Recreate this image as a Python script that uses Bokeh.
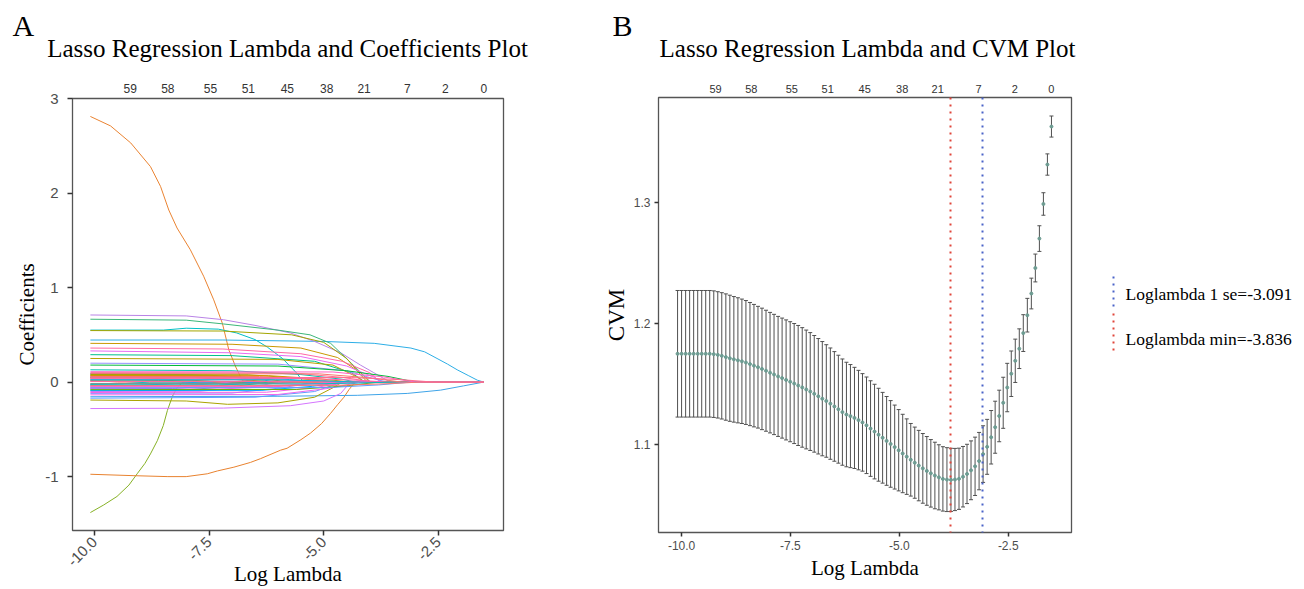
import math
from bokeh.plotting import figure
from bokeh.models import (Range1d, LinearAxis, FixedTicker, PrintfTickFormatter,
                          ColumnDataSource, Whisker, TeeHead)
from bokeh.layouts import row, column
from bokeh.embed import file_html
from bokeh.resources import INLINE
from bokeh.core.properties import value

# ---------------- data ----------------
x_ticks = [-10.0, -7.5, -5.0, -2.5]
coef_y_ticks = [-1, 0, 1, 2, 3]
cvm_y_ticks = [1.1, 1.2, 1.3]
df_positions = [-9.22, -8.40, -7.47, -6.645, -5.795, -4.935, -4.12, -3.18, -2.35, -1.51]
df_labels = ["59", "58", "55", "51", "45", "38", "21", "7", "2", "0"]
loglambda_min = -3.836
loglambda_1se = -3.091
loglambda_last = -1.507

log_lambda = [
    -10.092, -10.000, -9.907, -9.815, -9.723, -9.630, -9.538, -9.446, -9.354, -9.261,
    -9.169, -9.077, -8.984, -8.892, -8.800, -8.707, -8.615, -8.523, -8.430, -8.338,
    -8.246, -8.154, -8.061, -7.969, -7.877, -7.784, -7.692, -7.600, -7.507, -7.415,
    -7.323, -7.230, -7.138, -7.046, -6.954, -6.861, -6.769, -6.677, -6.584, -6.492,
    -6.400, -6.307, -6.215, -6.123, -6.030, -5.938, -5.846, -5.754, -5.661, -5.569,
    -5.477, -5.384, -5.292, -5.200, -5.107, -5.015, -4.923, -4.830, -4.738, -4.646,
    -4.554, -4.461, -4.369, -4.277, -4.184, -4.092, -4.000, -3.907, -3.815, -3.723,
    -3.630, -3.538, -3.446, -3.354, -3.261, -3.169, -3.077, -2.984, -2.892, -2.800,
    -2.707, -2.615, -2.523, -2.430, -2.338, -2.246, -2.154, -2.061, -1.969, -1.877,
    -1.784, -1.692, -1.600, -1.507]

cvm = [
    1.1750, 1.1750, 1.1750, 1.1750, 1.1750, 1.1750, 1.1750, 1.1750, 1.1750, 1.1747,
    1.1741, 1.1733, 1.1723, 1.1713, 1.1704, 1.1696, 1.1688, 1.1678, 1.1665, 1.1652,
    1.1639, 1.1625, 1.1610, 1.1594, 1.1579, 1.1563, 1.1549, 1.1534, 1.1519, 1.1504,
    1.1488, 1.1472, 1.1455, 1.1438, 1.1419, 1.1399, 1.1379, 1.1360, 1.1338, 1.1315,
    1.1292, 1.1268, 1.1248, 1.1235, 1.1220, 1.1202, 1.1183, 1.1159, 1.1132, 1.1107,
    1.1081, 1.1056, 1.1030, 1.1005, 1.0979, 1.0953, 1.0926, 1.0900, 1.0874, 1.0850,
    1.0826, 1.0803, 1.0782, 1.0762, 1.0744, 1.0729, 1.0716, 1.0710, 1.0708, 1.0711,
    1.0717, 1.0734, 1.0757, 1.0787, 1.0820, 1.0863, 1.0921, 1.0981, 1.1060, 1.1143,
    1.1236, 1.1345, 1.1471, 1.1585, 1.1692, 1.1792, 1.1921, 1.2069, 1.2248, 1.2459,
    1.2702, 1.2988, 1.3314, 1.3628]

cvsd = [
    0.0523, 0.0523, 0.0523, 0.0523, 0.0523, 0.0523, 0.0523, 0.0523, 0.0523, 0.0523,
    0.0522, 0.0522, 0.0522, 0.0521, 0.0519, 0.0517, 0.0514, 0.0512, 0.0509, 0.0506,
    0.0503, 0.0502, 0.0500, 0.0498, 0.0497, 0.0496, 0.0496, 0.0496, 0.0496, 0.0496,
    0.0496, 0.0494, 0.0491, 0.0487, 0.0482, 0.0477, 0.0472, 0.0465, 0.0460, 0.0453,
    0.0446, 0.0439, 0.0432, 0.0426, 0.0418, 0.0411, 0.0403, 0.0399, 0.0395, 0.0391,
    0.0384, 0.0375, 0.0367, 0.0358, 0.0347, 0.0336, 0.0324, 0.0312, 0.0300, 0.0294,
    0.0291, 0.0288, 0.0284, 0.0279, 0.0275, 0.0269, 0.0266, 0.0264, 0.0261, 0.0257,
    0.0253, 0.0250, 0.0245, 0.0243, 0.0241, 0.0237, 0.0234, 0.0227, 0.0221, 0.0215,
    0.0213, 0.0211, 0.0200, 0.0188, 0.0179, 0.0164, 0.0152, 0.0139, 0.0127, 0.0115,
    0.0106, 0.0093, 0.0088, 0.0087]

# coefficient paths: (log lambda, coefficient) knots
coef_paths = [
    [(-10.09, 2.81), (-9.65, 2.71), (-9.21, 2.53), (-8.78, 2.28), (-8.56, 2.07), (-8.38, 1.82),
     (-8.2, 1.63), (-7.91, 1.40), (-7.62, 1.12), (-7.40, 0.87), (-7.21, 0.62), (-7.07, 0.34),
     (-6.92, 0.16), (-6.80, 0.04), (-6.74, 0.0)],
    [(-10.09, -1.38), (-9.8, -1.30), (-9.51, -1.21), (-9.25, -1.09), (-9.07, -0.97), (-8.9, -0.86),
     (-8.78, -0.76), (-8.63, -0.62), (-8.5, -0.46), (-8.41, -0.30), (-8.3, -0.15), (-8.2, -0.06),
     (-8.1, -0.01), (-8.05, 0.0)],
    [(-10.09, -0.975), (-9.14, -0.99), (-8.4, -1.0), (-8.0, -1.0), (-7.54, -0.97), (-7.32, -0.94),
     (-6.96, -0.90), (-6.6, -0.85), (-6.38, -0.81), (-5.94, -0.72), (-5.8, -0.70), (-5.5, -0.61),
     (-5.29, -0.54), (-5.05, -0.44), (-4.85, -0.33), (-4.7, -0.24), (-4.56, -0.16), (-4.45, -0.08),
     (-4.34, -0.015), (-4.3, 0.0)],
    [(-10.09, 0.445), (-7.2, 0.445), (-5.0, 0.43), (-3.9, 0.41), (-3.1, 0.36), (-2.8, 0.32),
     (-2.53, 0.25), (-2.3, 0.19), (-2.09, 0.13), (-1.85, 0.07), (-1.65, 0.02), (-1.51, 0.0)],
    [(-10.09, -0.155), (-6.0, -0.15), (-4.27, -0.14), (-3.18, -0.12), (-2.45, -0.085),
     (-1.95, -0.04), (-1.51, 0.0)],
    [(-10.09, 0.71), (-8.0, 0.70), (-7.19, 0.66), (-6.5, 0.60), (-5.73, 0.52), (-5.2, 0.43),
     (-4.63, 0.31), (-4.2, 0.18), (-3.91, 0.10), (-3.7, 0.04), (-3.54, 0.0)],
    [(-10.09, 0.665), (-8.0, 0.655), (-7.19, 0.615), (-6.0, 0.55), (-5.3, 0.50), (-4.85, 0.41),
     (-4.4, 0.20), (-4.15, 0.08), (-3.98, 0.0)],
    [(-10.09, 0.55), (-8.5, 0.55), (-8.0, 0.57), (-7.3, 0.56), (-6.9, 0.52), (-6.5, 0.45),
     (-6.23, 0.37), (-5.9, 0.25), (-5.6, 0.10), (-5.44, 0.0)],
    [(-10.09, 0.545), (-7.2, 0.54), (-5.7, 0.50), (-5.0, 0.42), (-4.5, 0.25), (-4.2, 0.08), (-4.05, 0.0)],
    [(-10.09, 0.41), (-7.0, 0.40), (-5.5, 0.36), (-4.7, 0.26), (-4.2, 0.10), (-4.0, 0.0)],
    [(-10.09, 0.36), (-7.2, 0.35), (-5.5, 0.30), (-4.6, 0.22), (-4.0, 0.10), (-3.76, 0.0)],
    [(-10.09, 0.33), (-7.0, 0.31), (-5.5, 0.27), (-4.5, 0.17), (-3.9, 0.05), (-3.7, 0.0)],
    [(-10.09, 0.29), (-7.0, 0.28), (-5.2, 0.22), (-4.4, 0.10), (-4.1, 0.0)],
    [(-10.09, 0.25), (-6.0, 0.24), (-4.8, 0.18), (-4.3, 0.06), (-4.1, 0.0)],
    [(-10.09, 0.20), (-6.0, 0.19), (-4.5, 0.12), (-3.8, 0.02), (-3.6, 0.0)],
    [(-10.09, 0.18), (-6.0, 0.17), (-4.5, 0.12), (-3.6, 0.06), (-3.2, 0.02), (-3.0, 0.0)],
    [(-10.09, 0.13), (-7.0, 0.12), (-5.5, 0.08), (-4.6, 0.03), (-4.3, 0.0)],
    [(-10.09, 0.09), (-8.0, 0.08), (-7.0, 0.05), (-6.3, 0.02), (-6.0, 0.0)],
    [(-10.09, -0.28), (-7.19, -0.275), (-5.73, -0.25), (-5.0, -0.20), (-4.63, -0.12), (-4.42, 0.0)],
    [(-10.09, -0.19), (-8.0, -0.20), (-7.1, -0.235), (-6.0, -0.22), (-5.2, -0.16), (-4.8, -0.06), (-4.6, 0.0)],
    [(-10.09, -0.17), (-6.5, -0.16), (-5.2, -0.10), (-4.6, 0.0)],
    [(-10.09, 0.015), (-9.8, 0.01), (-9.5, 0.0)],
    [(-10.09, -0.025), (-9.5, -0.02), (-8.8, 0.0)],
    [(-10.09, 0.035), (-9.2, 0.03), (-8.6, 0.017), (-8.0, 0.0)],
    [(-10.09, -0.04), (-9.2, -0.038), (-8.4, -0.02), (-7.7, 0.0)],
    [(-10.09, 0.05), (-9.1, 0.048), (-8.0, 0.025), (-7.3, 0.0)],
    [(-10.09, -0.055), (-8.8, -0.053), (-7.7, -0.027), (-7.0, 0.0)],
    [(-10.09, 0.02), (-8.6, 0.019), (-7.5, 0.01), (-6.8, 0.0)],
    [(-10.09, -0.07), (-8.3, -0.068), (-7.2, -0.035), (-6.5, 0.0)],
    [(-10.09, 0.065), (-8.1, 0.063), (-7.0, 0.032), (-6.3, 0.0)],
    [(-10.09, -0.085), (-8.0, -0.082), (-6.9, -0.042), (-6.2, 0.0)],
    [(-10.09, 0.045), (-7.8, 0.044), (-6.7, 0.022), (-6.0, 0.0)],
    [(-10.09, -0.10), (-7.7, -0.097), (-6.6, -0.05), (-5.9, 0.0)],
    [(-10.09, 0.075), (-7.5, 0.073), (-6.4, 0.037), (-5.7, 0.0)],
    [(-10.09, -0.03), (-7.3, -0.029), (-6.2, -0.015), (-5.5, 0.0)],
    [(-10.09, 0.01), (-7.1, 0.01), (-6.0, 0.005), (-5.3, 0.0)],
    [(-10.09, -0.12), (-7.0, -0.116), (-5.9, -0.06), (-5.2, 0.0)],
    [(-10.09, 0.055), (-6.85, 0.053), (-5.75, 0.027), (-5.05, 0.0)],
    [(-10.09, -0.065), (-6.75, -0.063), (-5.65, -0.032), (-4.95, 0.0)],
    [(-10.09, 0.08), (-6.65, 0.078), (-5.55, 0.04), (-4.85, 0.0)],
    [(-10.09, -0.015), (-6.6, -0.015), (-5.5, -0.008), (-4.8, 0.0)],
    [(-10.09, 0.03), (-6.55, 0.029), (-5.45, 0.015), (-4.75, 0.0)],
    [(-10.09, -0.045), (-6.5, -0.044), (-5.4, -0.022), (-4.7, 0.0)],
    [(-10.09, 0.06), (-6.4, 0.058), (-5.3, 0.03), (-4.6, 0.0)],
    [(-10.09, -0.09), (-6.35, -0.087), (-5.25, -0.045), (-4.55, 0.0)],
    [(-10.09, 0.005), (-6.3, 0.005), (-5.2, 0.003), (-4.5, 0.0)],
    [(-10.09, -0.11), (-6.25, -0.107), (-5.15, -0.055), (-4.45, 0.0)],
    [(-10.09, 0.07), (-6.2, 0.068), (-5.1, 0.035), (-4.4, 0.0)],
    [(-10.09, -0.05), (-6.1, -0.049), (-5.0, -0.025), (-4.3, 0.0)],
    [(-10.09, 0.025), (-6.05, 0.024), (-4.95, 0.012), (-4.25, 0.0)],
    [(-10.09, -0.135), (-6.0, -0.131), (-4.9, -0.067), (-4.2, 0.0)],
    [(-10.09, 0.10), (-5.7, 0.097), (-4.6, 0.05), (-3.9, 0.0)],
    [(-10.09, -0.08), (-5.6, -0.078), (-4.5, -0.04), (-3.8, 0.0)],
    [(-10.09, 0.04), (-5.4, 0.039), (-4.3, 0.02), (-3.6, 0.0)],
    [(-10.09, -0.02), (-5.3, -0.019), (-4.2, -0.01), (-3.5, 0.0)],
    [(-10.09, 0.09), (-5.1, 0.087), (-4.0, 0.045), (-3.3, 0.0)],
    [(-10.09, -0.06), (-4.9, -0.058), (-3.8, -0.03), (-3.1, 0.0)],
    [(-10.09, 0.11), (-4.8, 0.107), (-3.7, 0.055), (-3.0, 0.0)],
    [(-10.09, -0.035), (-4.7, -0.034), (-3.6, -0.017), (-2.9, 0.0)],
    [(-10.09, 0.05), (-4.4, 0.048), (-3.3, 0.025), (-2.6, 0.0)],
]

# ---------------- styles ----------------
path_colors = [
    "#EA8331", "#86B125", "#E8822F", "#2DAEE6", "#3FA4E8", "#B983E6", "#3CB67A", "#00BFC4",
    "#A3A500", "#C99800", "#FF67A4", "#E76BF3", "#00C08B", "#B79F00", "#9590FF", "#00BA38",
    "#00C0AF", "#00B8E7", "#D575FE", "#ABA300", "#619CFF",
    "#F8766D", "#00BFC4", "#FF6C91", "#00B0F6", "#E38900", "#F564E3", "#00BC56", "#06A4FF",
    "#FF61C3", "#00C094", "#C49A00", "#DB72FB", "#53B400", "#00BCD8", "#FF689F", "#8F91FF",
    "#00B6EB", "#FB61D7", "#99A800", "#F47B5A", "#FF6A98", "#E76BF3", "#F8766D", "#00A9FF",
    "#FF6A98", "#F564E3", "#D89000", "#FF62BC", "#00B9E3", "#EF67EB", "#FF6C91", "#6BB100",
    "#FF64B0", "#00BFC4", "#F8766D", "#619CFF", "#FF61C3", "#F8766D", "#FF6C91",
]

SANS = "Liberation Sans"
SERIF = "Liberation Serif"
TICK_TXT = "#4d4d4d"
FRAME = "#555555"
COL_1SE = "#4a63c8"
COL_MIN = "#e0453a"
DOTS = "2 5"
HEADER_H = 77


def style_axis(ax, size):
    ax.axis_line_color = None
    ax.major_tick_line_color = "#333333"
    ax.major_tick_line_width = 1.5
    ax.minor_tick_line_color = None
    ax.major_tick_in = 0
    ax.major_label_text_font = SANS
    ax.major_label_text_font_size = size
    ax.major_label_text_color = TICK_TXT
    ax.axis_label_text_font = SERIF
    ax.axis_label_text_font_style = "normal"
    ax.axis_label_text_font_size = "21px"
    ax.axis_label_text_color = "#000000"


def df_axis(size, standoff):
    return LinearAxis(
        ticker=FixedTicker(ticks=df_positions),
        major_label_overrides={p: l for p, l in zip(df_positions, df_labels)},
        axis_line_color=None, major_tick_line_color=None, minor_tick_line_color=None,
        major_tick_out=0, major_tick_in=0, major_label_standoff=standoff,
        major_label_text_font=SANS, major_label_text_font_size=size,
        major_label_text_color="#333333")


def blank_fig(width, height):
    f = figure(width=width, height=height, output_backend="svg", toolbar_location=None,
               x_range=Range1d(0, width), y_range=Range1d(height, 0),
               x_axis_type=None, y_axis_type=None, title=None, frame_align=False,
               min_border_left=0, min_border_right=0, min_border_top=0, min_border_bottom=0)
    f.xgrid.visible = False
    f.ygrid.visible = False
    f.outline_line_color = None
    return f


def header(width, letter, letter_x, title, title_x):
    h = blank_fig(width, HEADER_H)
    h.text(x=[letter_x], y=[25], text=[letter], text_font=value(SERIF), text_font_size="30px",
           text_align="left", text_baseline="middle", text_color="#000000")
    h.text(x=[title_x], y=[48], text=[title], text_font=value(SERIF), text_font_size="25px",
           text_align="center", text_baseline="middle", text_color="#000000")
    return h


def base_fig(width, height, xr, yr, borders):
    p = figure(width=width, height=height, output_backend="svg", toolbar_location=None,
               x_range=xr, y_range=yr, title=None, frame_align=False,
               min_border_left=borders[0], min_border_right=borders[1],
               min_border_top=borders[2], min_border_bottom=borders[3])
    p.xgrid.visible = False
    p.ygrid.visible = False
    p.outline_line_color = FRAME
    p.outline_line_width = 1.3
    p.background_fill_color = "white"
    p.border_fill_color = "white"
    return p


# ---------------- panel A ----------------
h1 = header(600, "A", 12, "Lasso Regression Lambda and Coefficients Plot", 287)
p1 = base_fig(600, 589 - HEADER_H, Range1d(-10.48, -1.08), Range1d(-1.57, 3.0), (72, 97, 21, 59))
xs = [[pt[0] for pt in path] + [loglambda_last] for path in coef_paths]
ys = [[pt[1] for pt in path] + [0.0] for path in coef_paths]
p1.multi_line(xs=xs, ys=ys, line_color=path_colors, line_width=1)

style_axis(p1.xaxis[0], "15px")
style_axis(p1.yaxis[0], "15px")
p1.xaxis[0].ticker = FixedTicker(ticks=x_ticks)
p1.xaxis[0].formatter = PrintfTickFormatter(format="%.1f")
p1.xaxis[0].major_label_orientation = math.pi / 4
p1.xaxis[0].major_tick_out = 5
p1.xaxis[0].major_label_standoff = 4
p1.xaxis[0].axis_label = "Log Lambda"
p1.xaxis[0].axis_label_standoff = -12
p1.yaxis[0].ticker = FixedTicker(ticks=coef_y_ticks)
p1.yaxis[0].formatter = PrintfTickFormatter(format="%d")
p1.yaxis[0].major_tick_out = 5
p1.yaxis[0].major_label_standoff = 9
p1.yaxis[0].axis_label = "Coefficients"
p1.yaxis[0].axis_label_standoff = 3
p1.add_layout(df_axis("12px", 6), "above")

# ---------------- panel B ----------------
h2 = header(500, "B", 12, "Lasso Regression Lambda and CVM Plot", 267)
p2 = base_fig(500, 589 - HEADER_H, Range1d(-10.53, -1.047), Range1d(1.0273, 1.3868), (57, 29, 20, 57))
src = ColumnDataSource(dict(
    x=log_lambda, cvm=cvm,
    lo=[m - s for m, s in zip(cvm, cvsd)],
    hi=[m + s for m, s in zip(cvm, cvsd)]))
bar_col = "#505050"
p2.add_layout(Whisker(source=src, base="x", upper="hi", lower="lo",
                      line_color=bar_col, line_width=1,
                      upper_head=TeeHead(size=4, line_color=bar_col, line_width=1),
                      lower_head=TeeHead(size=4, line_color=bar_col, line_width=1)))
pts = p2.scatter("x", "cvm", source=src, size=3, color="#6d9c92")
pts.level = "overlay"

r_1se = p2.vspan(x=[loglambda_1se], line_color=COL_1SE, line_width=2, line_dash=DOTS)
r_min = p2.vspan(x=[loglambda_min], line_color=COL_MIN, line_width=2, line_dash=DOTS)
r_1se.level = "overlay"
r_min.level = "overlay"

style_axis(p2.xaxis[0], "12px")
style_axis(p2.yaxis[0], "12px")
p2.yaxis[0].axis_label_text_font_size = "23px"
p2.xaxis[0].ticker = FixedTicker(ticks=x_ticks)
p2.xaxis[0].formatter = PrintfTickFormatter(format="%.1f")
p2.xaxis[0].major_tick_out = 4
p2.xaxis[0].major_label_standoff = 4
p2.xaxis[0].axis_label = "Log Lambda"
p2.xaxis[0].axis_label_standoff = 3
p2.yaxis[0].ticker = FixedTicker(ticks=cvm_y_ticks)
p2.yaxis[0].formatter = PrintfTickFormatter(format="%.1f")
p2.yaxis[0].major_tick_out = 4
p2.yaxis[0].major_label_standoff = 4
p2.yaxis[0].axis_label = "CVM"
p2.yaxis[0].axis_label_standoff = 2
p2.add_layout(df_axis("11px", 5), "above")

# ---------------- legend (keys drawn as vertical dotted lines, like ggplot) ----------------
p3 = blank_fig(204, 589)
legend_labels = [f"Loglambda 1 se={loglambda_1se}", f"Loglambda min={loglambda_min}"]
p3.segment(x0=[13, 13], y0=[276, 313], x1=[13, 13], y1=[310, 351],
           line_color=[COL_1SE, COL_MIN], line_width=2, line_dash=DOTS)
p3.text(x=[25, 25], y=[293, 338], text=legend_labels, text_font=value(SERIF),
        text_font_size="17.5px", text_baseline="middle", text_align="left",
        text_color="#000000")

layout = row(column(h1, p1), column(h2, p2), p3)
open("out.html", "w").write(file_html(layout, INLINE))
